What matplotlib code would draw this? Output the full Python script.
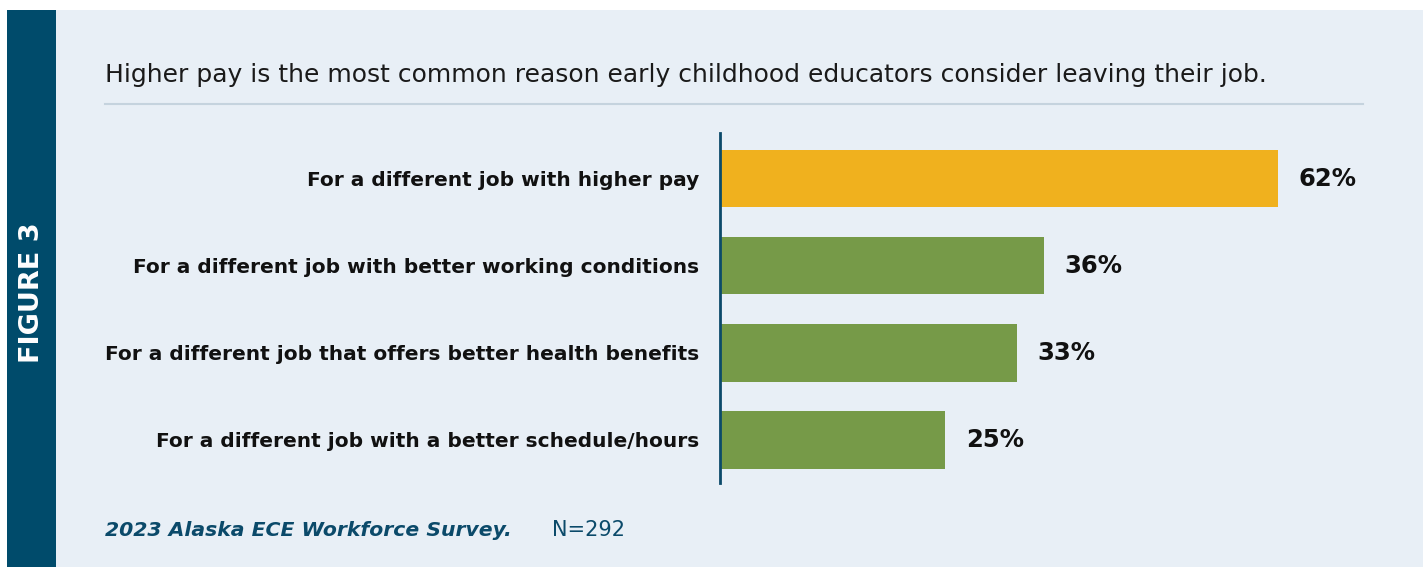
import matplotlib
matplotlib.use("Agg")
import matplotlib.pyplot as plt
from matplotlib.patches import Rectangle
from matplotlib.lines import Line2D

# data
categories = [
    "For a different job with higher pay",
    "For a different job with better working conditions",
    "For a different job that offers better health benefits",
    "For a different job with a better schedule/hours",
]
values = [62, 36, 33, 25]
bar_colors = ["#F0B11E", "#769A48", "#769A48", "#769A48"]

title = "Higher pay is the most common reason early childhood educators consider leaving their job."
source = "2023 Alaska ECE Workforce Survey."
n_note = "N=292"

W, H = 1427, 567
fig = plt.figure(figsize=(W / 100, H / 100), dpi=100)
fig.patch.set_facecolor("white")

def fx(px):
    return px / W

def fy(py):
    return 1 - py / H

# panel and side strip
fig.patches.append(Rectangle((fx(56), 0), fx(1423) - fx(56), fy(10), transform=fig.transFigure,
                             facecolor="#E8EFF6", edgecolor="none", zorder=-2))
fig.patches.append(Rectangle((fx(7), 0), fx(56) - fx(7), fy(10), transform=fig.transFigure,
                             facecolor="#004B6B", edgecolor="none", zorder=-2))
fig.text(fx(32), fy(293), "FIGURE 3", rotation=90, color="white", fontsize=19.5,
         fontweight="bold", family="DejaVu Sans", ha="center", va="center")

# title + rule
fig.text(fx(105), fy(75), title, fontsize=18, family="DejaVu Sans", color="#1a1a1a",
         ha="left", va="center")
fig.lines.append(Line2D([fx(105), fx(1363)], [fy(104), fy(104)], transform=fig.transFigure,
                        color="#C5D3DE", lw=1.5))

# bars
ax = fig.add_axes([fx(720), fy(483), fx(1363) - fx(720), fy(133) - fy(483)])
ax.set_zorder(5)
ax.set_facecolor("none")
ypos = list(range(len(categories)))
ax.barh(ypos, values, height=0.66, color=bar_colors, zorder=2)
ax.set_xlim(0, 643 / 9.0)
ax.set_ylim(3.494, -0.523)
for y, v in zip(ypos, values):
    ax.text(v + 2.3, y, f"{v}%", va="center", ha="left", fontsize=17.5,
            fontweight="bold", family="DejaVu Sans", color="#111111")
ax.set_yticks(ypos)
ax.set_yticklabels(categories, fontsize=14.5, fontweight="bold", family="DejaVu Sans",
                   color="#111111")
ax.tick_params(axis="y", length=0, pad=15)
ax.set_xticks([])
for s in ["top", "right", "bottom"]:
    ax.spines[s].set_visible(False)
ax.spines["left"].set_color("#0B4A6A")
ax.spines["left"].set_linewidth(2)

# footer
fig.text(fx(105), fy(530), source, fontsize=14.7, fontweight="bold", style="italic",
         family="DejaVu Sans", color="#0B4A6A", ha="left", va="center")
fig.text(fx(552), fy(530), n_note, fontsize=15, family="DejaVu Sans",
         color="#0B4A6A", ha="left", va="center")

fig.savefig("out.png", dpi=100)
